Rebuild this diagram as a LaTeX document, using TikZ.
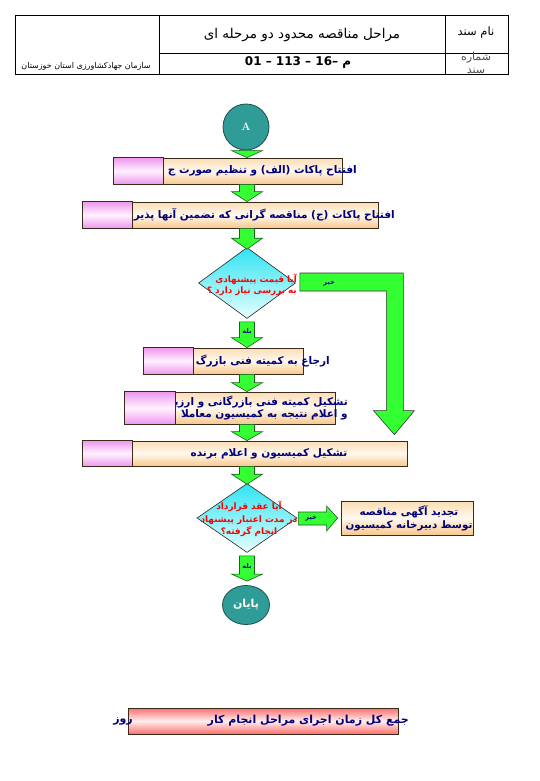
\documentclass[tikz,border=0pt]{standalone}
\usepackage{fontspec}
\usetikzlibrary{shapes.geometric,calc,shadings}
\TeXXeTstate=1
\newfontfamily\fa[Script=Arabic]{DejaVu Sans}
\newfontfamily\la{DejaVu Sans}
\definecolor{navy}{HTML}{00007A}
\definecolor{gfill}{HTML}{33FF33}
\definecolor{gline}{HTML}{1E5E1E}
\definecolor{peach}{HTML}{FBDDB4}
\definecolor{peachd}{HTML}{F7C88C}
\definecolor{cream}{HTML}{FFF8EE}
\definecolor{pinkc}{HTML}{EE96EE}
\definecolor{pinkl}{HTML}{FFF2FF}
\definecolor{tealc}{HTML}{2F9C98}
\definecolor{teald}{HTML}{1C4F4C}
\definecolor{cyanc}{HTML}{2FE3F2}
\definecolor{cyanl}{HTML}{E6FFFF}
\definecolor{redc}{HTML}{FF6E6E}
\definecolor{redl}{HTML}{FFF0F0}
\definecolor{boxline}{HTML}{3A2A1A}
\newcommand\gdn[3]{\filldraw[garrow] let \p1=(#1), \p2=(#2), \p3=(axis) in
  (\x3-7.5pt,\y1) -- (\x3+7.5pt,\y1) -- (\x3+7.5pt,\y2+#3pt) -- (\x3+15.5pt,\y2+#3pt)
  -- (\x3,\y2) -- (\x3-15.5pt,\y2+#3pt) -- (\x3-7.5pt,\y2+#3pt) -- cycle;}
\newcommand\pinkpart[2]{\shadedraw[pinkbox] (#1.north west) rectangle ($(#1.south west)+(#2,0)$);}
\begin{document}
\begin{tikzpicture}[x=1pt,y=-1pt,
  box/.style={rectangle, draw=boxline, line width=0.8pt, inner sep=0pt,
    top color=peach, bottom color=peachd, middle color=cream},
  pinkbox/.style={draw=boxline, line width=0.8pt, top color=pinkc, bottom color=pinkc, middle color=pinkl},
  btxt/.style={font=\fa\bfseries\fontsize{10.5}{13}\selectfont, text=navy, inner sep=0pt},
  rtxt/.style={font=\fa\bfseries\fontsize{8.8}{11.5}\selectfont, text=red, inner sep=0pt},
  lbl/.style={font=\fa\bfseries\fontsize{6.5}{7}\selectfont, text=navy, inner sep=0pt},
  dia/.style={diamond, draw=black!85, line width=0.6pt, inner sep=0pt, top color=cyanc, bottom color=cyanl},
  term/.style={draw=teald, line width=0.8pt, fill=tealc, inner sep=0pt, text=white},
  garrow/.style={draw=gline, line width=0.6pt, fill=gfill},
  hdr/.style={inner sep=0pt, font=\fa}
]
\fill[white] (0,0) rectangle (540,781);
\useasboundingbox (0,0) rectangle (540,781);
% header table
\draw[line width=0.8pt] (15,15) rectangle (508,74);
\draw[line width=0.8pt] (159,15) -- (159,74) (445,15) -- (445,74) (159,53) -- (508,53);
\node[hdr, font=\fa\fontsize{13.5}{15}\selectfont] (title) at (302,35) {\beginR مراحل مناقصه محدود دو مرحله ای\endR};
\node[hdr, font=\la\bfseries\fontsize{12}{13}\selectfont] (code) at (298,63) {01 – 113 – 16– {\fa م}};
\node[hdr, font=\fa\fontsize{11.5}{13}\selectfont] (name) at (476,33) {\beginR نام سند\endR};
\node[hdr, font=\fa\fontsize{11}{12.5}\selectfont, align=center, text=black!70] (num) at (476,63) {\beginR شماره\endR\\\beginR سند\endR};
\node[hdr, font=\fa\fontsize{8}{9}\selectfont] (org) at (86,66) {\beginR سازمان جهادکشاورزی استان خوزستان\endR};
% flowchart
\coordinate (axis) at (247,0);
\node[term, circle, minimum size=46pt, font=\rmfamily\bfseries\fontsize{11}{12}\selectfont] (A) at (246,127) {A};
\node[box, minimum width=228pt, minimum height=26pt] (b1) at (228,171) {};
\node[btxt, anchor=east] (t1) at (357,171) {\beginR افتتاح پاکات (الف) و تنظیم صورت ج\endR};
\pinkpart{b1}{50}
\node[box, minimum width=295pt, minimum height=26pt] (b2) at (230.5,215) {};
\node[btxt, anchor=east] (t2) at (395,215) {\beginR افتتاح پاکات (ج) مناقصه گرانی که تضمین آنها پذیرفته ش\endR};
\pinkpart{b2}{50}
\node[dia, minimum width=97pt, minimum height=71pt] (d1) at (247,283) {};
\node[rtxt, anchor=east, align=right] (q1) at (297,285) {\beginR آیا قیمت پیشنهادی\endR\\\beginR به بررسی نیاز دارد ؟\endR};
\node[box, minimum width=159pt, minimum height=26pt] (b3) at (223.5,361) {};
\node[btxt, anchor=east] (t3) at (330,361) {\beginR ارجاع به کمیته فنی بازرگ\endR};
\pinkpart{b3}{50}
\node[box, minimum width=210pt, minimum height=32pt] (b4) at (230,408) {};
\node[btxt, anchor=east, align=right, font=\fa\bfseries\fontsize{10.5}{12.5}\selectfont] (t4) at (348,408) {\beginR تشکیل کمیته فنی بازرگانی و ارزیا\endR\\\beginR و اعلام نتیجه به کمیسیون معاملا\endR};
\pinkpart{b4}{51}
\node[box, minimum width=324pt, minimum height=25pt] (b5) at (245,453.5) {};
\node[btxt] (t5) at (269,454) {\beginR تشکیل کمیسیون و اعلام برنده\endR};
\pinkpart{b5}{50}
\node[dia, minimum width=100pt, minimum height=69pt] (d2) at (247,518) {};
\node[rtxt, align=center, font=\fa\bfseries\fontsize{8.9}{12.3}\selectfont] (q2) at (249,519) {\beginR آیا عقد قرارداد\endR\\\beginR در مدت اعتبار پیشنهاد\endR\\\beginR انجام گرفته؟\endR};
\node[box, minimum width=132pt, minimum height=34pt] (b6) at (407,518) {};
\node[btxt, align=center, font=\fa\bfseries\fontsize{10.3}{13}\selectfont] (t6) at (409,518.5) {\beginR تجدید آگهی مناقصه\endR\\\beginR توسط دبیرخانه کمیسیون\endR};
\node[term, ellipse, minimum width=47pt, minimum height=39pt, font=\fa\bfseries\fontsize{11}{12}\selectfont] (end) at (246,605) {\beginR پایان\endR};
% vertical arrows
\gdn{A.south}{b1.north}{7}
\gdn{b1.south}{b2.north}{10}
\gdn{b2.south}{$(d1.north)+(0,2)$}{11}
\gdn{$(d1.south)+(0,3)$}{b3.north}{10}
\gdn{b3.south}{b4.north}{9}
\gdn{b4.south}{b5.north}{9}
\gdn{b5.south}{$(d2.north)+(0,1)$}{10}
\gdn{$(d2.south)+(0,3)$}{$(end.north)+(0,-4)$}{7}
\node[lbl] (yes1) at (247,332) {\beginR بله\endR};
\node[lbl] (yes2) at (247,567) {\beginR بله\endR};
% "no" arrows
\filldraw[garrow, draw=black!80] let \p1=(d1.east), \p2=(b5.north east) in
  (\x1+4pt,\y1+10pt) -- (\x2-4pt,\y1+10pt) -- (\x2-4pt,\y2+30pt) -- (\x2+7pt,\y2+30pt)
  -- (\x2-13pt,\y2+6pt) -- (\x2-34pt,\y2+30pt) -- (\x2-21pt,\y2+30pt) -- (\x2-21pt,\y1-8pt)
  -- (\x1+4pt,\y1-8pt) -- cycle;
\node[lbl] (no1) at (329,284) {\beginR خیر\endR};
\filldraw[garrow] let \p1=(d2.east), \p2=(b6.west) in
  (\x1+1pt,\y1+6pt) -- (\x2-14pt,\y1+6pt) -- (\x2-14pt,\y1+12pt) -- (\x2-3pt,\y1)
  -- (\x2-14pt,\y1-13pt) -- (\x2-14pt,\y1-7pt) -- (\x1+1pt,\y1-7pt) -- cycle;
\node[lbl] (no2) at (311,519) {\beginR خیر\endR};
% total bar
\node[rectangle, draw=boxline, line width=0.8pt, minimum width=270pt, minimum height=26pt, inner sep=0pt,
  top color=redc, bottom color=redc, middle color=redl] (tot) at (263,721) {};
\node[btxt, anchor=east, font=\fa\bfseries\fontsize{11}{13}\selectfont] (tt) at (409,721) {\beginR جمع کل زمان اجرای مراحل انجام کار\endR};
\node[btxt, font=\fa\bfseries\fontsize{11}{13}\selectfont] (day) at (123,721) {\beginR روز\endR};
\end{tikzpicture}
\end{document}
